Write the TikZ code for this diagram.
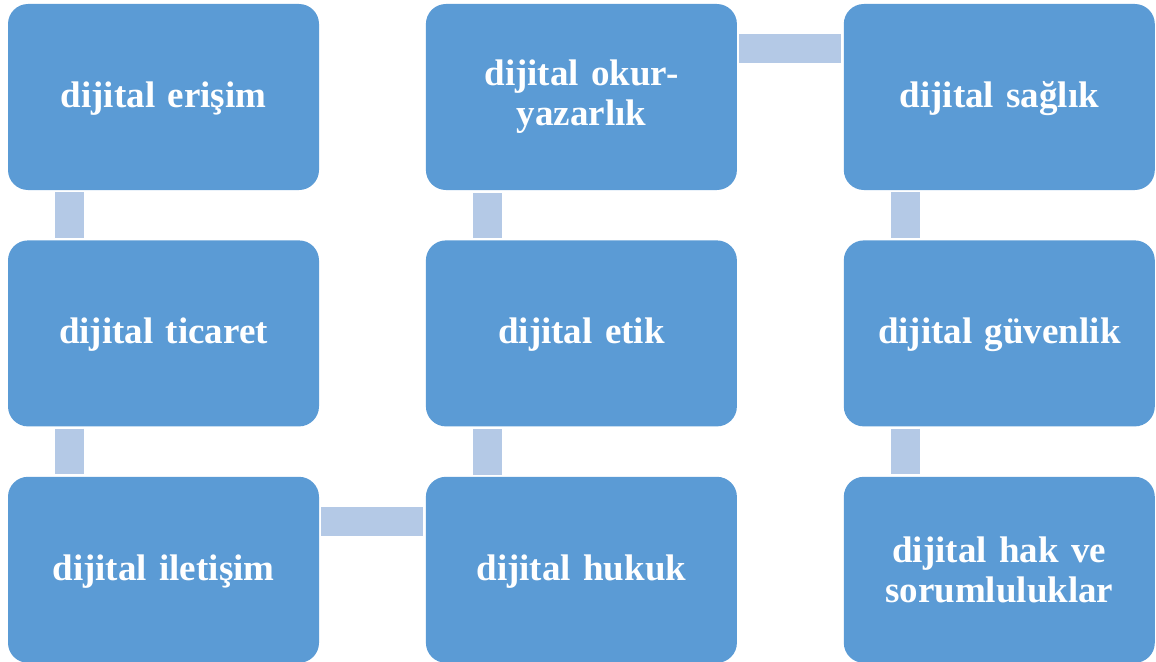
\documentclass[tikz,border=0pt]{standalone}
\usepackage{fontspec}
\setmainfont{Liberation Serif}
\usetikzlibrary{positioning}
\definecolor{boxblue}{HTML}{5B9BD5}
\definecolor{linkblue}{HTML}{B4C9E6}

\begin{document}
\begin{tikzpicture}[x=1pt, y=1pt,
    topic/.style={fill=boxblue, rounded corners=20pt, minimum width=311pt, minimum height=186pt,
        inner sep=0pt, text width=300pt, align=center, text=white,
        font=\bfseries\fontsize{37}{40}\selectfont},
    oneline/.style={topic, text height=25pt, text depth=4pt},
    link/.style={draw=linkblue, line width=29pt, shorten <=2pt, shorten >=2.5pt},
    node distance=50pt and 106.5pt]
    % Page frame
    \useasboundingbox (0, 0) rectangle (1156, -661);

    % First column
    \node[oneline] (erisim) at (163.5, -97) {dijital erişim};
    \node[oneline, below=of erisim] (ticaret) {dijital ticaret};
    \node[oneline, below=of ticaret] (iletisim) {dijital iletişim};

    % Second column
    \node[oneline, right=of iletisim] (hukuk) {dijital hukuk};
    \node[oneline, above=of hukuk] (etik) {dijital etik};
    \node[topic, above=of etik] (okur) {dijital okur-\\yazarlık};

    % Third column
    \node[oneline, right=of okur] (saglik) {dijital sağlık};
    \node[oneline, below=of saglik] (guvenlik) {dijital güvenlik};
    \node[topic, below=of guvenlik] (hak) {dijital hak ve\\sorumluluklar};

    % Links
    \draw[link] ([xshift=62pt]erisim.south west) -- ([xshift=62pt]ticaret.north west);
    \draw[link] ([xshift=62pt]ticaret.south west) -- ([xshift=62pt]iletisim.north west);
    \draw[link] ([yshift=-45pt]iletisim.north east) -- ([yshift=-45pt]hukuk.north west);
    \draw[link] ([xshift=62pt]hukuk.north west) -- ([xshift=62pt]etik.south west);
    \draw[link] ([xshift=62pt]etik.north west) -- ([xshift=62pt]okur.south west);
    \draw[link] ([yshift=-45pt]okur.north east) -- ([yshift=-45pt]saglik.north west);
    \draw[link] ([xshift=62pt]saglik.south west) -- ([xshift=62pt]guvenlik.north west);
    \draw[link] ([xshift=62pt]guvenlik.south west) -- ([xshift=62pt]hak.north west);
\end{tikzpicture}
\end{document}
